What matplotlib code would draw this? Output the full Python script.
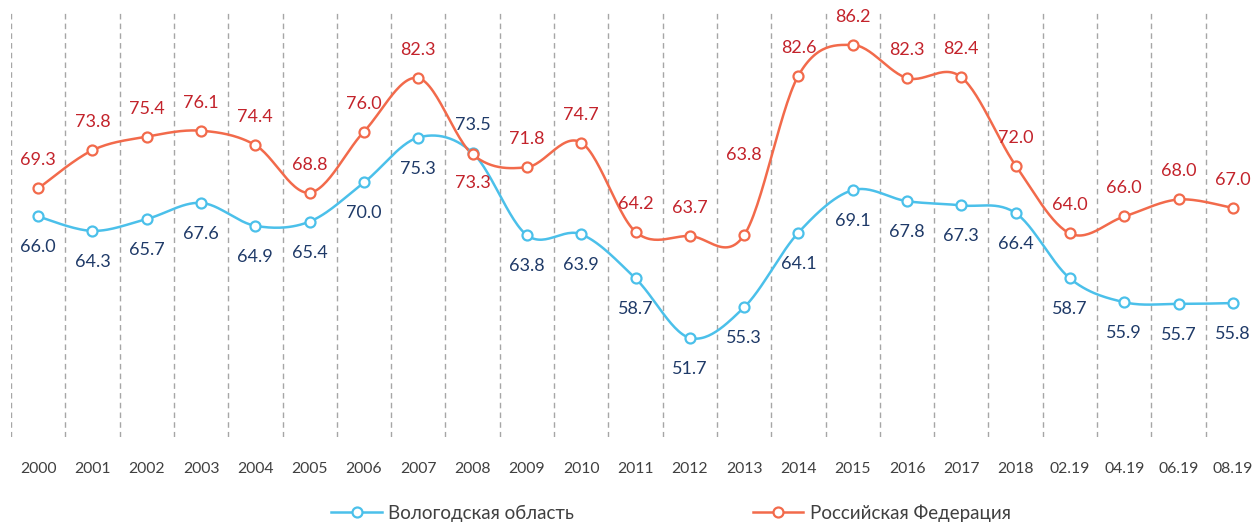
import numpy as np
import matplotlib
matplotlib.use("Agg")
import matplotlib.pyplot as plt
from matplotlib.lines import Line2D

categories = ["2000", "2001", "2002", "2003", "2004", "2005", "2006", "2007", "2008",
              "2009", "2010", "2011", "2012", "2013", "2014", "2015", "2016", "2017",
              "2018", "02.19", "04.19", "06.19", "08.19"]
vologda = [66.0, 64.3, 65.7, 67.6, 64.9, 65.4, 70.0, 75.3, 73.5, 63.8, 63.9, 58.7,
           51.7, 55.3, 64.1, 69.1, 67.8, 67.3, 66.4, 58.7, 55.9, 55.7, 55.8]
russia = [69.3, 73.8, 75.4, 76.1, 74.4, 68.8, 76.0, 82.3, 73.3, 71.8, 74.7, 64.2,
          63.7, 63.8, 82.6, 86.2, 82.3, 82.4, 72.0, 64.0, 66.0, 68.0, 67.0]
series_names = ["Вологодская область", "Российская Федерация"]

# label placement (pixel offsets from the point)
vol_off = [-31] * 23
vol_off[8] = 28
rus_off = [28] * 23
rus_off[8] = -29
rus_off[13] = 80

plt.rcParams['font.family'] = ['Lato', 'DejaVu Sans']

W, H = 1256, 522
fig = plt.figure(figsize=(W / 100, H / 100), dpi=100)
ax = fig.add_axes([11 / W, (522 - 437.2) / 522, 1249 / W, 424.5 / 522])


def smooth(xs, ys, n=30):
    xs = np.asarray(xs, float)
    ys = np.asarray(ys, float)
    P = np.column_stack([xs, ys])
    out = []
    m = len(P)
    for i in range(m - 1):
        p0 = P[i - 1] if i > 0 else P[i]
        p1 = P[i]
        p2 = P[i + 1]
        p3 = P[i + 2] if i + 2 < m else P[i + 1]
        c1 = p1 + (p2 - p0) / 6.0
        c2 = p2 - (p3 - p1) / 6.0
        t = np.linspace(0, 1, n)[:, None]
        seg = ((1 - t) ** 3) * p1 + 3 * ((1 - t) ** 2) * t * c1 + 3 * (1 - t) * t ** 2 * c2 + t ** 3 * p2
        out.append(seg if i == 0 else seg[1:])
    c = np.vstack(out)
    return c[:, 0], c[:, 1]


x = np.arange(len(categories))

blue_line = "#4BC0EA"
blue_text = "#1F3A68"
red_line = "#F26A4B"
red_text = "#C3232B"

for i in range(len(categories)):
    ax.axvline(i - 0.5, color="#A6A6A6", lw=1.0, ls=(0, (4, 3)), zorder=0)

for vals, lc, tc, offs in [(vologda, blue_line, blue_text, vol_off),
                           (russia, red_line, red_text, rus_off)]:
    sx, sy = smooth(x, vals)
    ax.plot(sx, sy, color=lc, lw=1.8, zorder=2, solid_capstyle='round')
    ax.plot(x, vals, ls='none', marker='o', ms=7.2, mfc='white', mec=lc, mew=1.6, zorder=3)
    for xi, v, o in zip(x, vals, offs):
        ax.annotate(f"{v:.1f}", (xi, v), xytext=(0, o), textcoords='offset pixels',
                    ha='center', va='center', fontsize=13, color=tc, zorder=4)

ax.set_xlim(-0.5, len(categories) - 0.5)
ax.set_ylim(40, 90)
ax.set_xticks(x)
ax.set_xticklabels(categories, fontsize=11.3, color="#404040")
ax.tick_params(axis='x', length=0, pad=18)
ax.set_yticks([])
for s in ax.spines.values():
    s.set_visible(False)

handles = [Line2D([], [], color=blue_line, lw=1.8, marker='o', ms=7.2, mfc='white', mec=blue_line, mew=1.6),
           Line2D([], [], color=red_line, lw=1.8, marker='o', ms=7.2, mfc='white', mec=red_line, mew=1.6)]
leg = fig.legend(handles, series_names, loc='center', bbox_to_anchor=(671 / W, 1 - 513 / H), ncol=2,
                 frameon=False, fontsize=13.5, handlelength=2.7, columnspacing=9.5, handletextpad=0.35,
                 labelcolor="#404040")

fig.savefig("out.png", dpi=100)
